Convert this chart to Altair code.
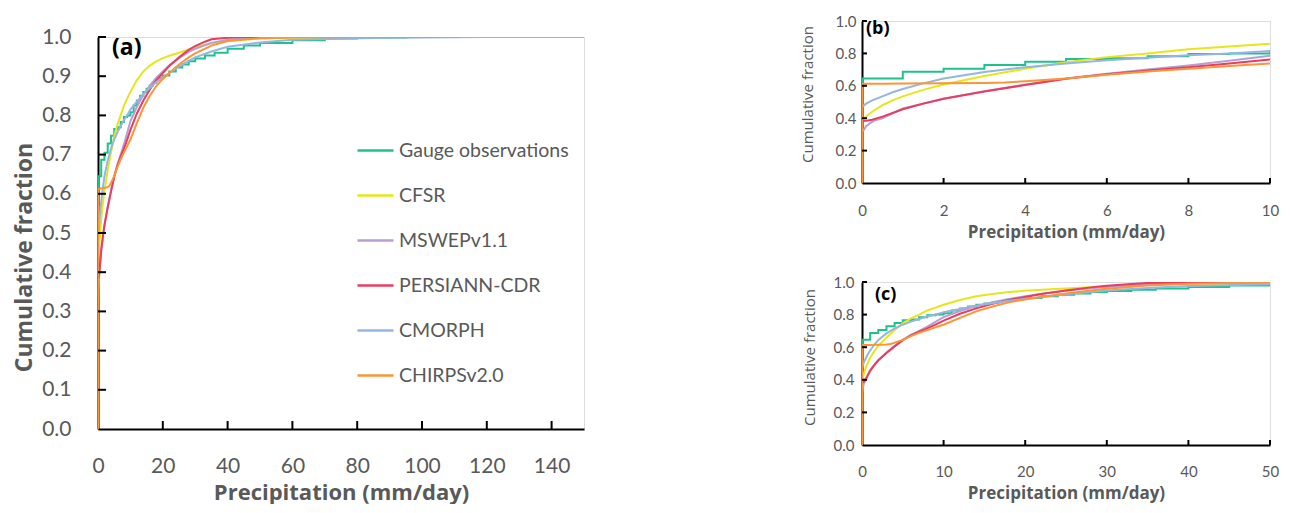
import altair as alt
import pandas as pd

SERIES = ["Gauge observations", "CFSR", "MSWEPv1.1", "PERSIANN-CDR", "CMORPH", "CHIRPSv2.0"]
COLORS = ["#1DC28C", "#E6E61A", "#B59FD3", "#EC3B5F", "#94B6E0", "#FA9538"]

gauge_x = [0, 0, 1, 2, 3, 4, 5, 6, 7, 8, 9, 10, 11, 12, 13, 14, 15, 16, 17, 18, 19, 20,
           22, 24, 26, 28, 30, 33, 36, 40, 45, 50, 60, 70, 80, 95]
gauge_y = [0, 0.645, 0.687, 0.705, 0.728, 0.748, 0.765, 0.770, 0.783, 0.796, 0.800, 0.808,
           0.825, 0.838, 0.850, 0.860, 0.868, 0.876, 0.883, 0.890, 0.896, 0.902,
           0.912, 0.922, 0.930, 0.938, 0.945, 0.953, 0.960, 0.970, 0.978, 0.985,
           0.992, 0.996, 0.999, 1.0]

cfsr_x = [0, 0, 0.1, 0.25, 0.5, 0.75, 1, 1.5, 2, 3, 4, 5, 6, 7, 8, 9, 10, 12, 14, 16, 18,
          20, 22, 25, 30, 35, 40, 50, 60, 80, 100, 126]
cfsr_y = [0, 0.385, 0.41, 0.44, 0.48, 0.51, 0.535, 0.575, 0.608, 0.66, 0.705, 0.746, 0.777,
          0.80, 0.825, 0.843, 0.860, 0.890, 0.912, 0.927, 0.938, 0.946, 0.952, 0.960,
          0.974, 0.984, 0.990, 0.996, 0.998, 0.999, 1.0, 1.0]

mswep_x = [0, 0, 0.05, 0.1, 0.15, 0.2, 0.3, 0.5, 1, 2, 3, 4, 5, 6, 7, 8, 9, 10, 12, 14, 16,
           18, 20, 22, 25, 28, 30, 35, 40, 50, 60]
mswep_y = [0, 0.315, 0.33, 0.35, 0.36, 0.37, 0.385, 0.40, 0.46, 0.52, 0.567, 0.608, 0.645,
           0.675, 0.70, 0.726, 0.755, 0.785, 0.822, 0.852, 0.876, 0.896, 0.912, 0.928,
           0.946, 0.962, 0.970, 0.985, 0.993, 0.999, 1.0]

persiann_x = [0, 0, 0.1, 0.25, 0.5, 1, 1.5, 2, 3, 4, 5, 6, 7, 8, 9, 10, 12, 14, 16, 18, 20,
              22, 25, 28, 30, 33, 35, 40, 45, 50]
persiann_y = [0, 0.385, 0.385, 0.39, 0.41, 0.455, 0.49, 0.52, 0.565, 0.605, 0.643, 0.672,
              0.695, 0.715, 0.738, 0.763, 0.805, 0.838, 0.866, 0.890, 0.908, 0.926, 0.948,
              0.967, 0.977, 0.988, 0.994, 0.998, 1.0, 1.0]

cmorph_x = [0, 0, 0.1, 0.25, 0.5, 0.75, 1, 1.5, 2, 3, 4, 5, 6, 7, 8, 9, 10, 12, 14, 16, 18,
            20, 22, 25, 30, 35, 40, 50, 60, 80, 100, 120, 150]
cmorph_y = [0, 0.47, 0.49, 0.51, 0.535, 0.56, 0.58, 0.615, 0.645, 0.685, 0.715, 0.738, 0.757,
            0.773, 0.788, 0.800, 0.815, 0.835, 0.855, 0.870, 0.885, 0.897, 0.908, 0.925,
            0.948, 0.963, 0.975, 0.986, 0.993, 0.997, 0.999, 1.0, 1.0]

chirps_x = [0, 0, 0.5, 1, 2, 3, 3.5, 4, 5, 6, 7, 8, 9, 10, 12, 14, 16, 18, 20, 22, 25, 28,
            30, 35, 40, 50, 60, 80, 112]
chirps_y = [0, 0.613, 0.613, 0.614, 0.615, 0.617, 0.62, 0.628, 0.645, 0.668, 0.688, 0.705,
            0.722, 0.738, 0.780, 0.820, 0.850, 0.875, 0.893, 0.908, 0.930, 0.948, 0.958,
            0.978, 0.990, 0.997, 0.999, 1.0, 1.0]

# tick values
A_XTICKS = [0, 20, 40, 60, 80, 100, 120, 140]
A_YTICKS = [0.0, 0.1, 0.2, 0.3, 0.4, 0.5, 0.6, 0.7, 0.8, 0.9, 1.0]
B_XTICKS = [0, 2, 4, 6, 8, 10]
C_XTICKS = [0, 10, 20, 30, 40, 50]
BC_YTICKS = [0.0, 0.2, 0.4, 0.6, 0.8, 1.0]

rows = []
for name, xs, ys in [("Gauge observations", gauge_x, gauge_y), ("CFSR", cfsr_x, cfsr_y),
                     ("MSWEPv1.1", mswep_x, mswep_y), ("PERSIANN-CDR", persiann_x, persiann_y),
                     ("CMORPH", cmorph_x, cmorph_y), ("CHIRPSv2.0", chirps_x, chirps_y)]:
    for i, (x, y) in enumerate(zip(xs, ys)):
        rows.append({"series": name, "x": x, "y": y, "i": i})
df = pd.DataFrame(rows)
gauge_df = df[df.series == "Gauge observations"]
other_df = df[df.series != "Gauge observations"]

GRAY = "#595959"
LAB_FONT = "Lato"
TIT_FONT = "Open Sans"


def panel(xmax, xticks, yticks, w, h, lab_fs, xtitle_fs, ytitle_fs, ytitle_w, ytitle_y,
          x_lpad, x_tpad, y_lpad, y_tpad, tick_len, tag, tag_fs, tag_x, tag_y, legend):
    xscale = alt.Scale(domain=[0, xmax], nice=False, zero=True)
    yscale = alt.Scale(domain=[0, 1], nice=False)
    xaxis = alt.Axis(values=xticks, title="Precipitation (mm/day)", grid=False, ticks=False,
                     tickSize=0, labelFontSize=lab_fs, labelFont=LAB_FONT, labelColor=GRAY,
                     labelPadding=x_lpad, titleFont=TIT_FONT, titleFontSize=xtitle_fs,
                     titleFontWeight="bold", titleColor=GRAY, titlePadding=x_tpad,
                     domainColor="black", domainWidth=2, labelFlush=False,
                     labelOverlap=False)
    yaxis = alt.Axis(values=yticks, format=".1f", title="Cumulative fraction", grid=False,
                     ticks=False, tickSize=0, labelFontSize=lab_fs, labelFont=LAB_FONT,
                     labelColor=GRAY, labelPadding=y_lpad, titleFont=TIT_FONT,
                     titleFontSize=ytitle_fs, titleFontWeight=ytitle_w, titleColor=GRAY,
                     titlePadding=y_tpad, titleY=ytitle_y, domainColor="black",
                     domainWidth=2, labelFlush=False, labelOverlap=False)
    if legend:
        leg = alt.Legend(orient="none", legendX=258, legendY=110, title=None,
                         symbolType="stroke", symbolSize=1300, symbolStrokeWidth=2.5,
                         labelFontSize=19.5, labelFont=LAB_FONT, labelColor=GRAY,
                         labelLimit=0, rowPadding=16, labelOffset=4, direction="vertical")
    else:
        leg = None
    color = alt.Color("series:N", scale=alt.Scale(domain=SERIES, range=COLORS), legend=leg)
    X = alt.X("x:Q", scale=xscale, axis=xaxis)
    Y = alt.Y("y:Q", scale=yscale, axis=yaxis)

    g = alt.Chart(gauge_df).mark_line(interpolate="step-after", strokeWidth=2, clip=True).encode(
        x=X, y=Y, color=color, order="i:Q")
    o = alt.Chart(other_df).mark_line(strokeWidth=2, clip=True).encode(
        x=X, y=Y, color=color, order="i:Q")

    ytk = alt.Chart(pd.DataFrame({"y": [v for v in yticks if v > 0]})).mark_rule(
        color="black", strokeWidth=2).encode(
        y=Y, x=alt.value(0), x2=alt.value(tick_len))
    xtk = alt.Chart(pd.DataFrame({"x": [v for v in xticks if v > 0]})).mark_rule(
        color="black", strokeWidth=2).encode(
        x=X, y=alt.value(h), y2=alt.value(h - tick_len))
    tg = alt.Chart(pd.DataFrame({"t": [tag]})).mark_text(
        font=TIT_FONT, fontWeight="bold", fontSize=tag_fs, color="black",
        align="left", baseline="middle").encode(
        x=alt.value(tag_x), y=alt.value(tag_y), text="t:N")
    return alt.layer(g, o, ytk, xtk, tg).properties(width=w, height=h)


a = panel(150, A_XTICKS, A_YTICKS, 486, 392, 21, 22, 23, "bold", 220,
          26, 6, 27, 5, 8, "(a)", 23, 14, 11, True)
b = panel(10, B_XTICKS, BC_YTICKS, 408, 162, 15, 17, 15, "normal", 73,
          20, 6, 6, 20, 5, "(b)", 18, 4, 8, False)
c = panel(50, C_XTICKS, BC_YTICKS, 408, 163, 15, 17, 15, "normal", 75,
          19, 6, 8, 16, 5, "(c)", 18, 13, 13, False)

spacer = alt.Chart(pd.DataFrame({"t": [""]})).mark_text().encode(
    text="t:N").properties(width=486, height=1)

left = alt.vconcat(spacer, a, spacing=-2)
right = alt.vconcat(b, c, spacing=33)
chart = alt.hconcat(left, right, spacing=214).resolve_scale(color="independent").properties(
    padding={"left": 5, "top": 5, "right": 0, "bottom": 0}
).configure_view(stroke=None).configure_axis(labelOverlap=False).configure(background="white")

chart.save("out.html", embed_options={"renderer": "svg", "actions": False})
